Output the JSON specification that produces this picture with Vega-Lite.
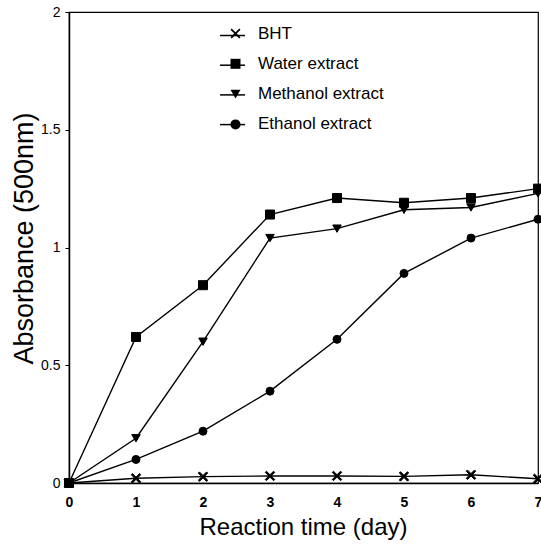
{
  "$schema": "https://vega.github.io/schema/vega-lite/v6.json",
  "width": 469,
  "height": 471,
  "autosize": {"type": "none"},
  "padding": {"left": 69, "top": 12, "right": 3, "bottom": 65},
  "background": "white",
  "config": {
    "font": "Liberation Sans",
    "view": {"stroke": "black", "strokeWidth": 1.2}
  },
  "data": {
    "values": [
      {"series": "BHT", "day": 0, "absorbance": 0},
      {"series": "BHT", "day": 1, "absorbance": 0.02},
      {"series": "BHT", "day": 2, "absorbance": 0.027},
      {"series": "BHT", "day": 3, "absorbance": 0.03},
      {"series": "BHT", "day": 4, "absorbance": 0.03},
      {"series": "BHT", "day": 5, "absorbance": 0.028},
      {"series": "BHT", "day": 6, "absorbance": 0.035},
      {"series": "BHT", "day": 7, "absorbance": 0.018},
      {"series": "Water extract", "day": 0, "absorbance": 0},
      {"series": "Water extract", "day": 1, "absorbance": 0.62},
      {"series": "Water extract", "day": 2, "absorbance": 0.84},
      {"series": "Water extract", "day": 3, "absorbance": 1.14},
      {"series": "Water extract", "day": 4, "absorbance": 1.21},
      {"series": "Water extract", "day": 5, "absorbance": 1.19},
      {"series": "Water extract", "day": 6, "absorbance": 1.21},
      {"series": "Water extract", "day": 7, "absorbance": 1.25},
      {"series": "Methanol extract", "day": 0, "absorbance": 0},
      {"series": "Methanol extract", "day": 1, "absorbance": 0.19},
      {"series": "Methanol extract", "day": 2, "absorbance": 0.6},
      {"series": "Methanol extract", "day": 3, "absorbance": 1.04},
      {"series": "Methanol extract", "day": 4, "absorbance": 1.08},
      {"series": "Methanol extract", "day": 5, "absorbance": 1.16},
      {"series": "Methanol extract", "day": 6, "absorbance": 1.17},
      {"series": "Methanol extract", "day": 7, "absorbance": 1.23},
      {"series": "Ethanol extract", "day": 0, "absorbance": 0},
      {"series": "Ethanol extract", "day": 1, "absorbance": 0.1},
      {"series": "Ethanol extract", "day": 2, "absorbance": 0.22},
      {"series": "Ethanol extract", "day": 3, "absorbance": 0.39},
      {"series": "Ethanol extract", "day": 4, "absorbance": 0.61},
      {"series": "Ethanol extract", "day": 5, "absorbance": 0.89},
      {"series": "Ethanol extract", "day": 6, "absorbance": 1.04},
      {"series": "Ethanol extract", "day": 7, "absorbance": 1.12}
    ]
  },
  "encoding": {
    "x": {
      "field": "day",
      "type": "quantitative",
      "scale": {"domain": [0, 7], "nice": false},
      "axis": {
        "title": "Reaction time (day)",
        "values": [0, 1, 2, 3, 4, 5, 6, 7],
        "grid": false,
        "ticks": false,
        "labelFlush": false,
        "labelFontSize": 14,
        "labelFontWeight": "bold",
        "labelColor": "black",
        "labelPadding": 12,
        "domainColor": "black",
        "domainWidth": 1.5,
        "titleFontSize": 24,
        "titleFontWeight": "normal",
        "titleColor": "black",
        "titleX": 234,
        "titleY": 44,
        "titleAlign": "center",
        "titleBaseline": "middle"
      }
    },
    "y": {
      "field": "absorbance",
      "type": "quantitative",
      "scale": {"domain": [0, 2], "nice": false},
      "axis": {
        "title": "Absorbance (500nm)",
        "values": [0, 0.5, 1, 1.5, 2],
        "format": "~g",
        "grid": false,
        "ticks": true,
        "tickSize": 4,
        "tickColor": "black",
        "labelFontSize": 14,
        "labelColor": "black",
        "labelPadding": 5,
        "domainColor": "black",
        "domainWidth": 1.5,
        "titleFontSize": 27,
        "titleFontWeight": "normal",
        "titleColor": "black",
        "titleAngle": 270,
        "titleX": -45,
        "titleY": 226,
        "titleAlign": "center",
        "titleBaseline": "middle"
      }
    }
  },
  "layer": [
    {
      "mark": {"type": "line", "interpolate": "linear", "strokeWidth": 1.4, "clip": false},
      "encoding": {
        "color": {
          "field": "series",
          "type": "nominal",
          "scale": {
            "domain": ["BHT", "Water extract", "Methanol extract", "Ethanol extract"],
            "range": ["black", "black", "black", "black"]
          },
          "legend": {
            "title": null,
            "orient": "none",
            "legendX": 150,
            "legendY": 10,
            "padding": 0,
            "symbolType": "stroke",
            "symbolSize": 625,
            "symbolStrokeWidth": 1.5,
            "symbolStrokeColor": "black",
            "labelFontSize": 17,
            "labelExpr": "''",
            "rowPadding": 7.7,
            "zindex": 1
          }
        },
        "detail": {"field": "series"}
      }
    },
    {
      "mark": {"type": "point", "filled": true, "opacity": 1, "stroke": "black", "strokeWidth": 1, "fill": "black", "clip": false},
      "encoding": {
        "shape": {
          "field": "series",
          "type": "nominal",
          "sort": ["BHT", "Water extract", "Methanol extract", "Ethanol extract"],
          "scale": {"range": ["M-1,-0.75L-0.75,-1L0,-0.25L0.75,-1L1,-0.75L0.25,0L1,0.75L0.75,1L0,0.25L-0.75,1L-1,0.75L-0.25,0Z", "square", "triangle-down", "circle"]},
          "legend": {
            "title": null,
            "orient": "none",
            "legendX": 158,
            "legendY": 13,
            "padding": 0,
            "symbolSize": 100,
            "symbolStrokeWidth": 1,
            "symbolStrokeColor": "black",
            "symbolFillColor": "black",
            "labelFontSize": 17,
            "labelColor": "black",
            "labelOffset": 14,
            "rowPadding": 12.3,
            "zindex": 2,
            "encode": {
              "symbols": {
                "update": {
                  "stroke": {"value": "black"},
                  "strokeWidth": {"value": 1},
                  "fill": {"value": "black"}
                }
              }
            }
          }
        },
        "size": {
          "field": "series",
          "type": "ordinal",
          "sort": ["BHT", "Water extract", "Methanol extract", "Ethanol extract"],
          "scale": {"range": [90, 64, 130, 170]},
          "legend": null
        }
      }
    }
  ]
}
